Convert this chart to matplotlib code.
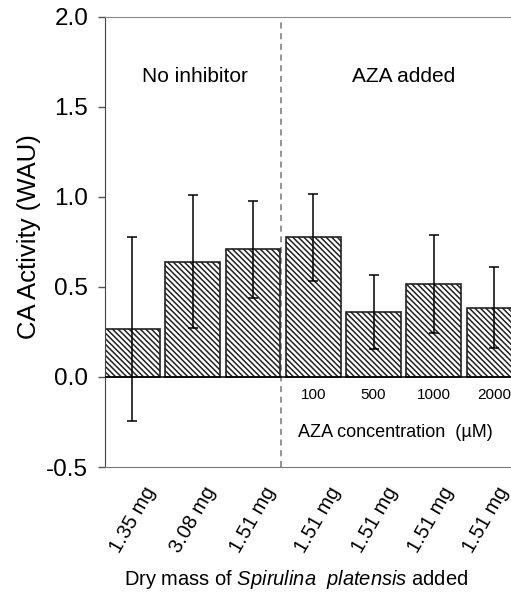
import numpy as np
import matplotlib
matplotlib.use("Agg")
import matplotlib.pyplot as plt
from matplotlib.transforms import ScaledTranslation

plt.rcParams['font.family'] = ['Liberation Sans', 'DejaVu Sans']
plt.rcParams['mathtext.fontset'] = 'custom'
plt.rcParams['mathtext.rm'] = 'Liberation Sans'
plt.rcParams['mathtext.it'] = 'Liberation Sans:italic'
plt.rcParams['hatch.color'] = '#707070'
plt.rcParams['hatch.linewidth'] = 1.1

# data
mass_labels = ['1.35 mg', '3.08 mg', '1.51 mg', '1.51 mg', '1.51 mg', '1.51 mg', '1.51 mg']
activity = [0.265, 0.64, 0.71, 0.775, 0.36, 0.515, 0.385]
errors = [0.51, 0.37, 0.27, 0.24, 0.207, 0.272, 0.224]
aza_conc = ['100', '500', '1000', '2000']

x = np.arange(len(activity))

fig = plt.figure(figsize=(5.11, 5.94), dpi=100)
ax = fig.add_axes([0.2055, 0.2138, 0.7945, 0.7576])

ax.bar(x, activity, width=0.91, color='white', edgecolor='#222222',
       linewidth=1.2, hatch='\\' * 6, zorder=2)
ax.errorbar(x, activity, yerr=errors, fmt='none', ecolor='black',
            elinewidth=1.1, capsize=3.5, capthick=1.1, zorder=3)

ax.axhline(0, color='black', linewidth=1.1, zorder=4)
ax.axvline(2.46, color='#777777', linewidth=1.1, linestyle=(0, (4, 3)), zorder=1)

ax.set_xlim(-0.455, 6.28)
ax.set_ylim(-0.5, 2.0)
ax.set_yticks([-0.5, 0.0, 0.5, 1.0, 1.5, 2.0])
ax.set_yticklabels(['-0.5', '0.0', '0.5', '1.0', '1.5', '2.0'], fontsize=17.5)
ax.tick_params(axis='y', direction='out', length=5, width=1.0, pad=7, color='#555555')

ax.set_xticks(x)
ax.set_xticklabels(mass_labels, rotation=60, fontsize=14.5, ha='center', va='top')
ax.tick_params(axis='x', length=0, pad=12)
# nudge the rightmost label so it stays inside the figure
for lab, dx in zip(ax.get_xticklabels(), [1, 0, 0, 5, 1, -3, -8]):
    lab.set_transform(lab.get_transform() + ScaledTranslation(dx / 100, 0, fig.dpi_scale_trans))

ax.spines['right'].set_visible(False)
ax.spines['left'].set_color('#444444')
ax.spines['top'].set_color('#888888')
ax.spines['bottom'].set_color('#777777')

ax.set_ylabel('CA Activity (WAU)', fontsize=18.5)
ax.yaxis.set_label_coords(-0.158, 0.513)

ax.text(1.03, 1.67, 'No inhibitor', fontsize=15, ha='center', va='center')
ax.text(4.5, 1.67, 'AZA added', fontsize=15, ha='center', va='center')

for i, c in enumerate(aza_conc):
    ax.text(x[3 + i], -0.1, c, fontsize=11, ha='center', va='center')
ax.text(4.37, -0.31, 'AZA concentration  (\u00b5M)', fontsize=13, ha='center', va='center')

fig.text(0.579, 0.024, r'Dry mass of $\it{Spirulina}$  $\it{platensis}$ added',
         fontsize=14.5, ha='center', va='center')

fig.savefig('out.png', dpi=100)
